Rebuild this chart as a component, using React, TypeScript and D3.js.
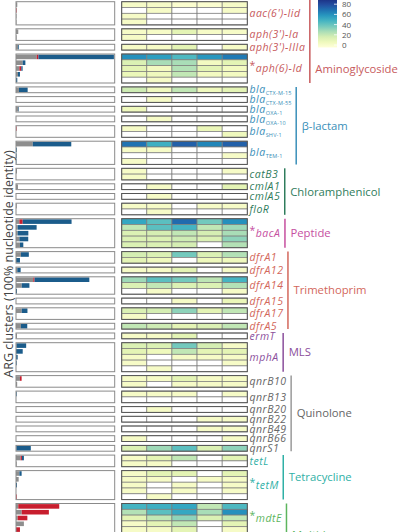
import { useEffect, useRef } from 'react'
import * as d3 from 'd3'

const classNames = ['Aminoglycoside', 'β-lactam', 'Chloramphenicol', 'Peptide', 'Trimethoprim', 'MLS', 'Quinolone', 'Tetracycline', 'Multidrug']
const classColors = ['#c75a5c', '#3a8fb9', '#2f7c5c', '#c64f9f', '#d3675c', '#8b4f9c', '#666666', '#2fb0a6', '#5db55e']
const classLineColors = ['#c75a5c', '#3a8fb9', '#2f7c5c', '#c64f9f', '#d3675c', '#8b4f9c', '#9a9a9a', '#2fb0a6', '#5db55e']

const geneNames = [
  "aac(6')-Iid", "aph(3')-Ia", "aph(3')-IIIa", 'aph(6)-Id',
  'bla', 'bla', 'bla', 'bla', 'bla', 'bla',
  'catB3', 'cmlA1', 'cmlA5', 'floR',
  'bacA',
  'dfrA1', 'dfrA12', 'dfrA14', 'dfrA15', 'dfrA17', 'dfrA5',
  'ermT', 'mphA',
  'qnrB10', 'qnrB13', 'qnrB20', 'qnrB22', 'qnrB49', 'qnrB66', 'qnrS1',
  'tetL', 'tetM',
  'mdtE',
]
const geneSubscripts = [
  '', '', '', '',
  'CTX-M-15', 'CTX-M-55', 'OXA-1', 'OXA-10', 'SHV-1', 'TEM-1',
  '', '', '', '', '', '', '', '', '', '', '', '', '', '', '', '', '', '', '', '', '', '', '',
]
const geneClass = [0, 0, 0, 0, 1, 1, 1, 1, 1, 1, 2, 2, 2, 2, 3, 4, 4, 4, 4, 4, 4, 5, 5, 6, 6, 6, 6, 6, 6, 6, 7, 7, 8]
const starredGenes = ['aph(6)-Id', 'bacA', 'tetM', 'mdtE']

// per gene, per cluster row: [grey, red, blue] share of the bar axis (0-100)
const barSegments = [
  [[1.3, 0, 0], [0, 0.6, 0], [0.5, 0, 0], [0.5, 0, 0]],
  [[2.3, 0, 0], [0.6, 0, 0]],
  [[2, 0, 0.8]],
  [[21, 1.7, 76.5], [6.8, 0, 2.7], [3.4, 2, 1.3], [2, 0, 2], [0, 0, 1.3]],
  [[3, 0, 8.8]],
  [[0, 0, 0]],
  [[2.5, 0, 0.5]],
  [[0, 0, 0]],
  [[0, 0.6, 0], [0, 0, 0]],
  [[17, 0, 39], [0, 0, 0.8], [0, 0, 0.6], [0, 0, 0.4]],
  [[1, 0, 0], [0, 0, 0]],
  [[2, 0, 0]],
  [[0, 0, 0]],
  [[0.8, 0, 0], [0, 0, 0]],
  [[3.4, 3.4, 49.5], [1.7, 0, 19.2], [1.7, 0, 10.8], [3.4, 0, 9], [4, 0, 3.4]],
  [[5, 0, 8], [0, 0, 4]],
  [[1.3, 0, 3.4]],
  [[17.5, 1.3, 55.5], [5.8, 0, 7.8], [0, 0, 1]],
  [[0, 0, 0]],
  [[5.8, 0, 5.8], [0, 0, 0]],
  [[5, 0, 6.4]],
  [[1, 0, 0]],
  [[0.5, 0, 9.8], [0, 0, 6.8], [0, 0, 1.7], [0, 0, 0.7], [0, 0, 0]],
  [[4, 1.7, 0], [1.2, 0, 0]],
  [[0, 0, 0.7], [0, 0, 0]],
  [[0, 0, 0]],
  [[0, 0, 0]],
  [[0, 0, 0]],
  [[0, 0, 0]],
  [[0.3, 0, 14.7]],
  [[4.7, 1.3, 2], [0.7, 0, 0]],
  [[3.4, 0, 2.3], [2.7, 0, 0], [0, 0, 1], [0, 0, 0], [0, 0.7, 0]],
  [[2.3, 41.5, 0], [5.8, 27.5, 0], [1.7, 9.8, 0], [8, 0, 0], [0, 4, 0]],
]

// per gene, per cluster row: five heatmap columns (0 = empty)
const heatValues = [
  [[6, 6, 3, 3, 6], [0, 6, 0, 0, 6], [6, 0, 0, 0, 0], [6, 0, 0, 0, 0]],
  [[6, 6, 15, 6, 6], [6, 0, 0, 0, 0]],
  [[6, 6, 15, 0, 6]],
  [[62, 58, 48, 60, 68], [18, 30, 30, 8, 15], [15, 8, 28, 15, 8], [12, 10, 25, 8, 8], [0, 6, 0, 0, 0]],
  [[22, 10, 25, 10, 15]],
  [[0, 6, 0, 0, 0]],
  [[10, 0, 0, 0, 0]],
  [[0, 6, 0, 0, 0]],
  [[6, 0, 0, 12, 0], [0, 0, 0, 0, 10]],
  [[70, 52, 75, 65, 75], [6, 6, 0, 0, 0], [0, 0, 0, 0, 6], [6, 0, 0, 0, 0]],
  [[6, 0, 0, 0, 6], [6, 0, 0, 0, 0]],
  [[0, 6, 0, 0, 15]],
  [[0, 6, 0, 0, 0]],
  [[6, 6, 0, 6, 6], [0, 6, 0, 0, 0]],
  [[55, 45, 72, 40, 62], [25, 45, 50, 25, 32], [18, 20, 25, 20, 30], [18, 18, 22, 18, 35], [18, 18, 20, 0, 28]],
  [[20, 18, 40, 18, 28], [15, 10, 0, 10, 10]],
  [[6, 6, 15, 0, 6]],
  [[32, 45, 40, 26, 50], [18, 25, 18, 18, 28], [0, 6, 0, 0, 6]],
  [[0, 0, 6, 0, 12]],
  [[18, 20, 35, 15, 25], [6, 0, 0, 0, 0]],
  [[25, 22, 15, 18, 25]],
  [[6, 6, 15, 0, 0]],
  [[18, 18, 40, 20, 6], [15, 10, 25, 15, 15], [6, 0, 6, 6, 6], [6, 0, 0, 0, 6], [0, 6, 0, 0, 0]],
  [[6, 6, 15, 6, 6], [6, 0, 6, 6, 6]],
  [[6, 6, 6, 0, 6], [0, 0, 0, 0, 0]],
  [[0, 6, 0, 0, 0]],
  [[0, 0, 0, 6, 6]],
  [[0, 0, 0, 6, 6]],
  [[6, 0, 0, 0, 6]],
  [[18, 32, 45, 18, 35]],
  [[6, 15, 25, 0, 15], [6, 6, 0, 0, 0]],
  [[6, 15, 15, 0, 15], [6, 6, 0, 6, 6], [6, 0, 6, 0, 6], [6, 0, 6, 0, 6], [0, 6, 0, 0, 0]],
  [[50, 52, 55, 25, 48], [28, 45, 55, 30, 62], [15, 25, 35, 18, 25], [6, 15, 25, 0, 15], [6, 6, 15, 0, 6]],
]

const colorTicks = [0, 20, 40, 60, 80]
const segmentColors = ['#8e8e8e', '#c81e2e', '#1b5c8b']

const W = 399
const H = 532
const ROW = 5.8
const GAP = 3.9
const TOP = 1.7
const FONT = "'Open Sans', Lato, sans-serif"

export default function App() {
  const svgRef = useRef<SVGSVGElement>(null)

  useEffect(() => {
    if (!svgRef.current) return
    const svg = d3.select(svgRef.current)
    svg.selectAll('*').remove()

    // vertical layout of gene blocks
    let cursor = TOP
    const blocks = geneNames.map((name, i) => {
      const n = heatValues[i].length
      const b = { i, name, y0: cursor, y1: cursor + n * ROW }
      cursor += n * ROW + GAP
      return b
    })

    const xBar = d3.scaleLinear().domain([0, 100]).range([16, 114.7])
    const xHeat = d3.scaleBand<number>().domain(d3.range(5)).range([121.7, 247.3])
    const color = d3.scaleSequential(d3.interpolateYlGnBu).domain([0, 100])

    // bar panel
    const barG = svg.append('g')
    blocks.forEach(b => {
      barSegments[b.i].forEach((segs, r) => {
        let x0 = 0
        segs.forEach((v, k) => {
          if (v <= 0) return
          barG.append('rect')
            .attr('x', xBar(x0))
            .attr('y', b.y0 + r * ROW + 0.6)
            .attr('width', xBar(x0 + v) - xBar(x0))
            .attr('height', ROW - 1.2)
            .attr('fill', segmentColors[k])
          x0 += v
        })
      })
      barG.append('rect')
        .attr('x', xBar(0))
        .attr('y', b.y0)
        .attr('width', xBar(100) - xBar(0))
        .attr('height', b.y1 - b.y0)
        .attr('fill', 'none')
        .attr('stroke', '#8a8a8a')
        .attr('stroke-width', 1)
    })

    // heatmap
    const heatG = svg.append('g')
    blocks.forEach(b => {
      heatValues[b.i].forEach((row, r) => {
        row.forEach((v, c) => {
          heatG.append('rect')
            .attr('x', xHeat(c)!)
            .attr('y', b.y0 + r * ROW)
            .attr('width', xHeat.bandwidth())
            .attr('height', ROW)
            .attr('fill', v > 0 ? color(v) : '#ffffff')
            .attr('stroke', '#7b7b7b')
            .attr('stroke-width', 0.7)
        })
      })
      heatG.append('rect')
        .attr('x', xHeat.range()[0])
        .attr('y', b.y0)
        .attr('width', xHeat.range()[1] - xHeat.range()[0])
        .attr('height', b.y1 - b.y0)
        .attr('fill', 'none')
        .attr('stroke', '#555')
        .attr('stroke-width', 1)
    })

    // gene labels
    const labelX = 249.5
    const labelG = svg.append('g').style('font-family', FONT)
    const rights: number[] = []
    blocks.forEach(b => {
      const col = classColors[geneClass[b.i]]
      const t = labelG.append('text')
        .attr('x', labelX)
        .attr('y', (b.y0 + b.y1) / 2 + 3.6)
        .attr('fill', col)
        .style('font-size', '10.5px')
        .style('letter-spacing', '0.5px')
        .style('font-style', 'italic')
      if (starredGenes.includes(b.name)) {
        t.append('tspan').attr('dy', -3).style('font-style', 'normal').text('*')
        t.append('tspan').attr('dy', 3).text(b.name)
      } else {
        t.append('tspan').text(b.name)
      }
      if (geneSubscripts[b.i]) {
        t.append('tspan')
          .attr('dy', 2)
          .style('font-size', '5.5px')
          .style('letter-spacing', '0.2px')
          .style('font-style', 'normal')
          .text(geneSubscripts[b.i])
      }
      const box = (t.node() as SVGTextElement).getBBox()
      rights[b.i] = box.x + box.width
    })

    // class brackets
    const classG = svg.append('g').style('font-family', FONT)
    classNames.forEach((name, ci) => {
      const members = blocks.filter(b => geneClass[b.i] === ci)
      const y0 = d3.min(members, b => b.y0)!
      let y1 = d3.max(members, b => b.y1)!
      const lineX = d3.max(members, b => rights[b.i])! + 4.5
      let labelY = (y0 + y1) / 2
      if (name === 'Aminoglycoside') {
        const m = blocks.find(b => b.name === 'aph(6)-Id')!
        labelY = (m.y0 + m.y1) / 2
      }
      if (name === 'Multidrug') {
        y1 = H + 20
        labelY = 535
      }
      classG.append('line')
        .attr('x1', lineX).attr('x2', lineX)
        .attr('y1', ci === 0 ? 0 : y0).attr('y2', y1)
        .attr('stroke', classLineColors[ci])
        .attr('stroke-width', 1.5)
      classG.append('text')
        .attr('x', lineX + 5.5)
        .attr('y', labelY + 4)
        .attr('fill', classColors[ci])
        .style('font-size', '11.3px')
        .text(name)
    })

    // colour bar
    const cbX = 318
    const cbW = 19
    const yCb = d3.scaleLinear().domain([0, 100]).range([45, -6])
    const defs = svg.append('defs')
    const grad = defs.append('linearGradient')
      .attr('id', 'cbgrad')
      .attr('x1', 0).attr('x2', 0).attr('y1', 1).attr('y2', 0)
    d3.range(0, 1.0001, 0.1).forEach(t => {
      grad.append('stop').attr('offset', t).attr('stop-color', color(t * 100))
    })
    svg.append('rect')
      .attr('x', cbX)
      .attr('y', yCb(100))
      .attr('width', cbW)
      .attr('height', 47.5 - yCb(100))
      .attr('fill', 'url(#cbgrad)')
    const tickG = svg.append('g').style('font-family', FONT)
    colorTicks.forEach(v => {
      tickG.append('line')
        .attr('x1', cbX + cbW - 3).attr('x2', cbX + cbW)
        .attr('y1', yCb(v)).attr('y2', yCb(v))
        .attr('stroke', '#fff').attr('stroke-width', 0.8)
      tickG.append('text')
        .attr('x', cbX + cbW + 5)
        .attr('y', yCb(v) + 3)
        .attr('fill', '#555')
        .style('font-size', '8px')
        .text(v)
    })

    // y axis title
    svg.append('text')
      .attr('transform', `translate(12.5, 264) rotate(-90)`)
      .attr('text-anchor', 'middle')
      .attr('fill', '#444')
      .style('font-family', FONT)
      .style('font-size', '12.5px')
      .text('ARG clusters (100% nucleotide identity)')
  }, [])

  return (
    <svg
      ref={svgRef}
      width={W}
      height={H}
      style={{ position: 'absolute', left: 0, top: 0, background: '#fff' }}
    />
  )
}
